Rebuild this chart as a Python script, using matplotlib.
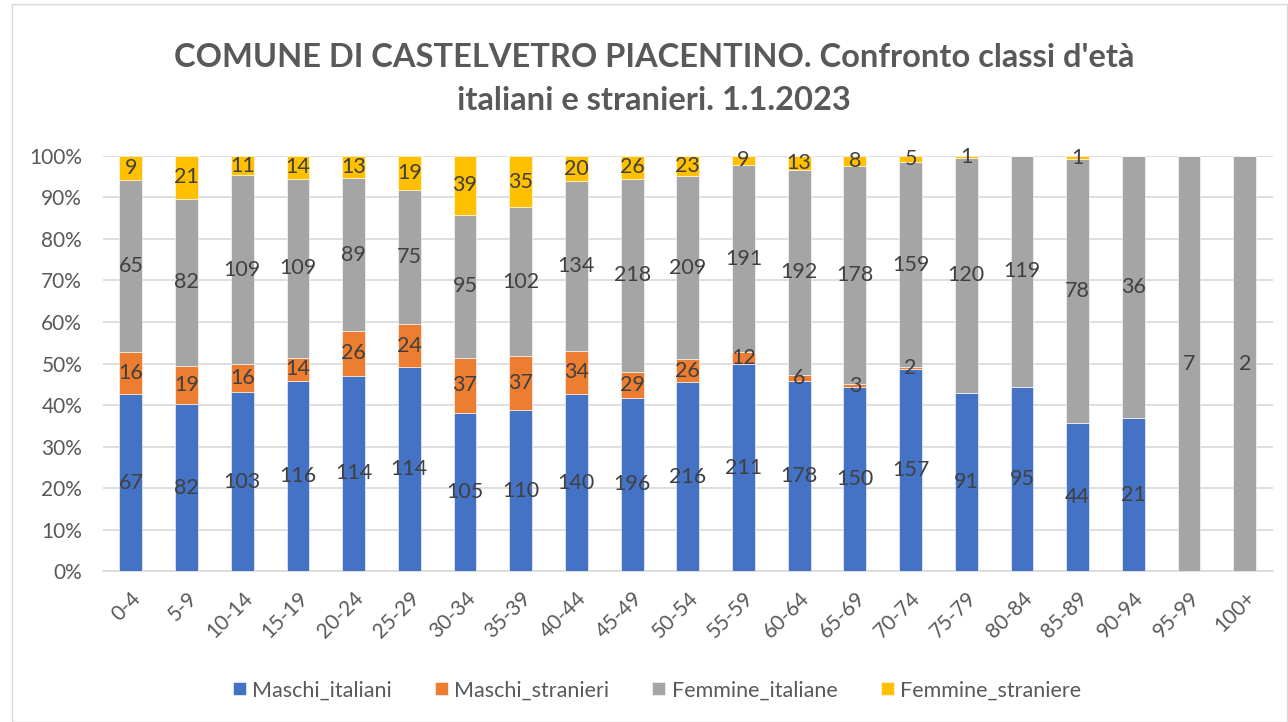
import matplotlib.pyplot as plt
import numpy as np
from matplotlib.patches import Rectangle

plt.rcParams['font.family'] = ['Lato', 'DejaVu Sans']

# ---------------- dati ----------------
classi = ["0-4", "5-9", "10-14", "15-19", "20-24", "25-29", "30-34", "35-39",
          "40-44", "45-49", "50-54", "55-59", "60-64", "65-69", "70-74", "75-79",
          "80-84", "85-89", "90-94", "95-99", "100+"]
maschi_italiani = [67, 82, 103, 116, 114, 114, 105, 110, 140, 196, 216, 211,
                   178, 150, 157, 91, 95, 44, 21, 0, 0]
maschi_stranieri = [16, 19, 16, 14, 26, 24, 37, 37, 34, 29, 26, 12,
                    6, 3, 2, 0, 0, 0, 0, 0, 0]
femmine_italiane = [65, 82, 109, 109, 89, 75, 95, 102, 134, 218, 209, 191,
                    192, 178, 159, 120, 119, 78, 36, 7, 2]
femmine_straniere = [9, 21, 11, 14, 13, 19, 39, 35, 20, 26, 23, 9,
                     13, 8, 5, 1, 0, 1, 0, 0, 0]

serie = [("Maschi_italiani", maschi_italiani, "#4472C4"),
         ("Maschi_stranieri", maschi_stranieri, "#ED7D31"),
         ("Femmine_italiane", femmine_italiane, "#A5A5A5"),
         ("Femmine_straniere", femmine_straniere, "#FFC000")]

# ---------------- grafico ----------------
fig = plt.figure(figsize=(12.88, 7.22), dpi=100)
ax = fig.add_axes([0.080, 0.209, 0.908, 0.575])

x = np.arange(len(classi))
totali = np.sum([np.array(s[1]) for s in serie], axis=0)
base = np.zeros(len(classi))

for nome, valori, colore in serie:
    v = np.array(valori, dtype=float)
    perc = v / totali * 100
    ax.bar(x, perc, bottom=base, width=0.41, color=colore, label=nome,
           edgecolor="white", linewidth=0.4, zorder=3)
    for i in range(len(classi)):
        if valori[i] > 0:
            ax.text(x[i], base[i] + perc[i] / 2, str(valori[i]), ha="center",
                    va="center", fontsize=15.5, color="#404040", zorder=4)
    base = base + perc

ax.set_xlim(-0.5, len(classi) - 0.5)
ax.set_ylim(0, 100)
ax.set_yticks(np.arange(0, 101, 10))
ax.set_yticklabels([f"{t}%" for t in range(0, 101, 10)])
ax.set_xticks(x)
ax.set_xticklabels(classi, rotation=45, ha="right", rotation_mode="anchor")
ax.tick_params(axis="y", length=0, labelsize=15, labelcolor="#595959", pad=15)
ax.tick_params(axis="x", length=0, labelsize=15, labelcolor="#595959", pad=12)
ax.grid(axis="y", color="#D9D9D9", linewidth=1.2, zorder=0)
for lato in ["top", "right", "left"]:
    ax.spines[lato].set_visible(False)
ax.spines["bottom"].set_color("#D9D9D9")
ax.spines["bottom"].set_linewidth(1.2)

fig.suptitle("COMUNE DI CASTELVETRO PIACENTINO. Confronto classi d'età\nitaliani e stranieri. 1.1.2023",
             x=0.508, y=0.94, fontsize=23.5, fontweight="bold", color="#595959",
             linespacing=1.55)

fig.legend(loc="center", bbox_to_anchor=(0.51, 0.044), ncol=4, frameon=False,
           fontsize=15.5, labelcolor="#595959", handlelength=0.6, handleheight=0.6,
           columnspacing=2.0, handletextpad=0.3)

fig.patches.append(Rectangle((0.009, 0.0), 0.99, 0.995, transform=fig.transFigure,
                             fill=False, edgecolor="#D9D9D9", linewidth=1))

plt.savefig("out.png", dpi=100)
